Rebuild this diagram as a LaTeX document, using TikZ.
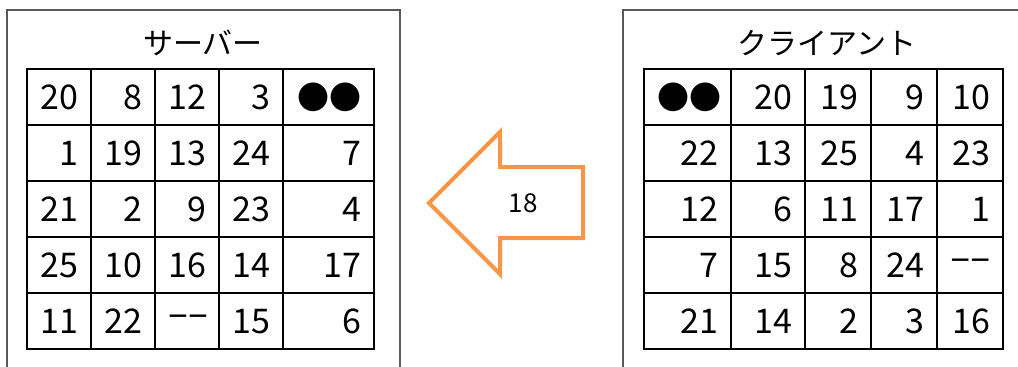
\documentclass[tikz,border=0pt]{standalone}
\usepackage{fontspec}
\setmainfont{Noto Sans CJK JP}
\newfontfamily\dashfont{Liberation Sans}
\usetikzlibrary{matrix}
\definecolor{arr}{HTML}{F79646}
\definecolor{frm}{HTML}{5A5A5A}
\tikzset{
  cell/.style={draw, line width=2pt, minimum height=56pt, inner xsep=13pt, inner ysep=0pt,
               anchor=center, align=right, font=\fontsize{34}{36}\selectfont},
  tbl/.style={matrix of nodes, nodes={cell}, inner sep=0pt, column sep=-2pt, row sep=-2pt,
              anchor=north west},
  frame/.style={draw=frm, line width=1.2pt},
  ttl/.style={font=\fontsize{30}{34}\selectfont, inner sep=0pt},
  bigarrow/.style={draw=arr, line width=4pt, line join=miter},
}
\newcommand{\dd}{{\fontsize{32}{34}\selectfont ●●}}
\newcommand{\nn}{{\dashfont −−}}

\begin{document}
\begin{tikzpicture}[x=1pt, y=-1pt]
  \useasboundingbox (0,0) rectangle (1018,367);
  % server side
  \draw[frame] (7,367) |- (400,10) -- (400,367);
  \node[ttl] (srvttl) at (203,43) {サーバー};
  \matrix (srv) [tbl,
    column 1/.style={nodes={minimum width=64pt, text width=38pt}},
    column 2/.style={nodes={minimum width=64pt, text width=38pt}},
    column 3/.style={nodes={minimum width=64pt, text width=38pt}},
    column 4/.style={nodes={minimum width=64pt, text width=38pt}},
    column 5/.style={nodes={minimum width=91pt, text width=65pt}}] at (26,68) {
    20 & 8  & 12  & 3  & \dd \\
    1  & 19 & 13  & 24 & 7   \\
    21 & 2  & 9   & 23 & 4   \\
    25 & 10 & 16  & 14 & 17  \\
    11 & 22 & \nn & 15 & 6   \\
  };
  % client side
  \draw[frame] (623,367) |- (1018,10);
  \node[ttl] (clittl) at (827,43) {クライアント};
  \matrix (cli) [tbl,
    column 1/.style={nodes={minimum width=87pt, text width=61pt}},
    column 2/.style={nodes={minimum width=74pt, text width=48pt}},
    column 3/.style={nodes={minimum width=66pt, text width=40pt}},
    column 4/.style={nodes={minimum width=66pt, text width=40pt}},
    column 5/.style={nodes={minimum width=66pt, text width=40pt}}] at (643,68) {
    \dd & 20 & 19 & 9  & 10  \\
    22  & 13 & 25 & 4  & 23  \\
    12  & 6  & 11 & 17 & 1   \\
    7   & 15 & 8  & 24 & \nn \\
    21  & 14 & 2  & 3  & 16  \\
  };
  % transfer
  \draw[bigarrow] (429,203) -- (500,132) -- (500,167) -- (583,167) -- (583,238)
    -- (500,238) -- (500,274) -- cycle;
  \node[font=\fontsize{26}{30}\selectfont] (num) at (523,203) {18};
\end{tikzpicture}
\end{document}
